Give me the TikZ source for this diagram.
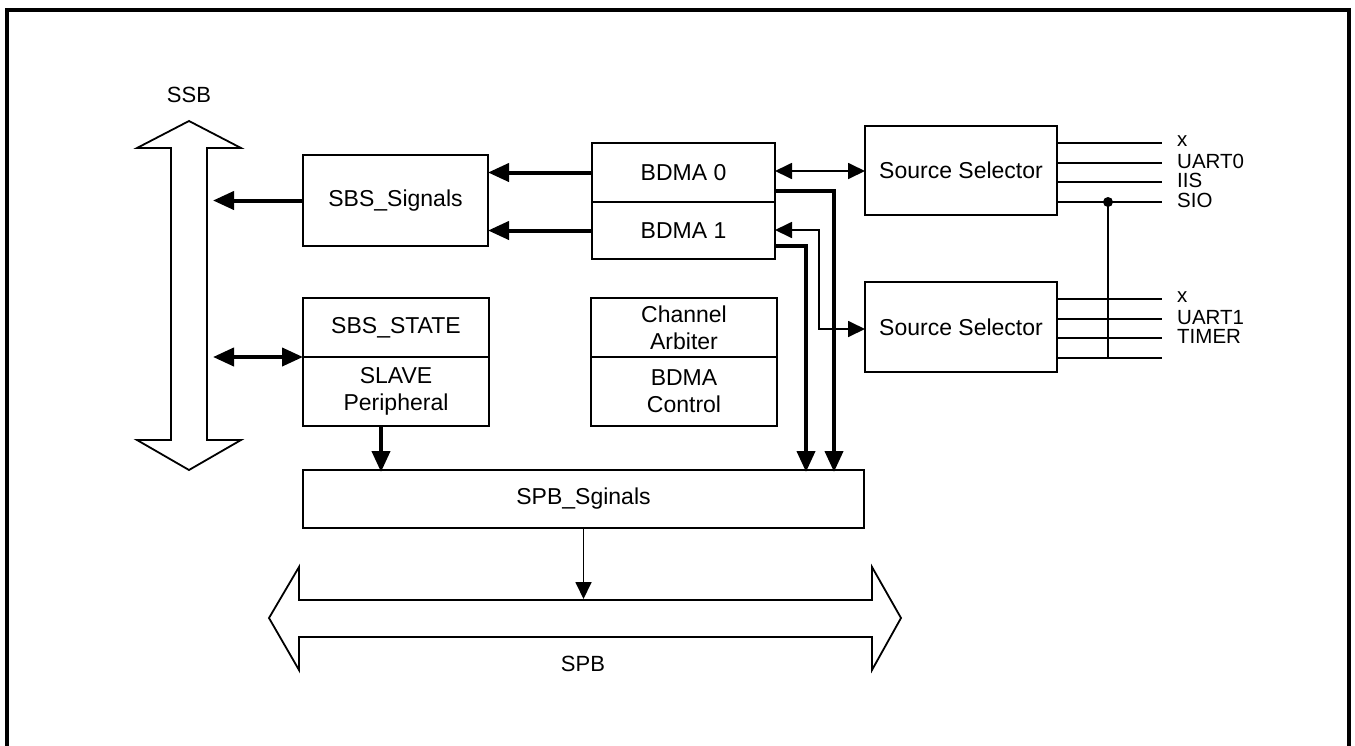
\documentclass[tikz,border=0pt]{standalone}
\usepackage{fontspec}
\setmainfont{Liberation Sans}
\usetikzlibrary{arrows.meta}
\begin{document}
\begin{tikzpicture}[x=1pt,y=-1pt,
  box/.style={draw, line width=1.8pt, inner sep=0pt, outer sep=0pt,
    font=\fontsize{23}{27}\selectfont, align=center},
  thn/.style={line width=1.8pt},
  thk/.style={line width=4pt},
  bigarr/.style={thk, -{Triangle[length=21pt,width=18pt]}},
  bigdbl/.style={thk, {Triangle[length=21pt,width=18pt]}-{Triangle[length=21pt,width=18pt]}},
  smarr/.style={thn, -{Triangle[length=17pt,width=16pt]}},
  smdbl/.style={thn, {Triangle[length=17pt,width=16pt]}-{Triangle[length=17pt,width=16pt]}},
  lab/.style={font=\fontsize{20.5}{20}\selectfont, anchor=base west, inner sep=0pt},
  bus/.style={draw, line width=1.8pt, fill=white, line join=miter},
  title/.style={font=\fontsize{22}{26}\selectfont, inner sep=0pt},
]
\useasboundingbox (0,0) rectangle (1355,745);
\clip (0,0) rectangle (1355,745);
\fill[white] (0,0) rectangle (1355,745);
% frame
\draw[line width=4pt] (7,760) -- (7,10) -- (1348.5,10) -- (1348.5,760);

% buses
\draw[bus] (189,121) -- (241,148) -- (207,148) -- (207,440) -- (241,440) -- (189,470)
  -- (137,440) -- (171,440) -- (171,148) -- (137,148) -- cycle;
\node[title] (ssb) at (189,95) {SSB};
\draw[bus] (269,618) -- (299,567) -- (299,600) -- (872,600) -- (872,567) -- (901,618)
  -- (872,670) -- (872,637) -- (299,637) -- (299,670) -- cycle;
\node[title] (spb) at (583,664) {SPB};

% boxes
\node[box, minimum width=185pt, minimum height=91pt] (sbssig) at (395.5,200.5) {SBS\_Signals};
\node[box, minimum width=183pt, minimum height=59pt] (bdma0) at (683.5,172.5) {BDMA 0};
\node[box, minimum width=183pt, minimum height=57pt] (bdma1) at (683.5,230.5) {BDMA 1};
\node[box, minimum width=192pt, minimum height=89pt] (ss1) at (961,170.5) {Source Selector};
\node[box, minimum width=192pt, minimum height=90pt] (ss2) at (961,327) {Source Selector};
\node[box, minimum width=186pt, minimum height=59pt] (sbsstate) at (396,327.5) {SBS\_STATE};
\node[box, minimum width=186pt, minimum height=69pt] (slave) at (396,391.5) {SLAVE\\Peripheral};
\node[box, minimum width=186pt, minimum height=59pt] (charb) at (684,327.5) {Channel\\Arbiter};
\node[box, minimum width=186pt, minimum height=69pt] (bctl) at (684,391.5) {BDMA\\Control};
\node[box, minimum width=561pt, minimum height=58pt] (spbsig) at (583.5,499) {SPB\_Sginals};

% bus anchor points
\coordinate (ssbA) at (213,200.5);
\coordinate (ssbB) at (213,357);
\coordinate (spbtop) at (583.5,599);

% connectors
\draw[bigarr] (sbssig.west |- ssbA) -- (ssbA);
\draw[bigdbl] (ssbB) -- (sbsstate.south west);
\draw[bigarr] (bdma0.west) -- (bdma0.west -| sbssig.east);
\draw[bigarr] (bdma1.west) -- (bdma1.west -| sbssig.east);
\draw[smdbl] (bdma0.east |- 0,171) -- (ss1.west |- 0,171);
\draw[bigarr] (bdma0.east |- 0,191) -| ([yshift=-2pt]spbsig.north -| 834,0);
\draw[bigarr] (bdma1.east |- 0,246) -| ([yshift=-2pt]spbsig.north -| 806,0);
\draw[smdbl] (bdma1.east |- 0,230) -- (819,230) -- (819,329) -- (ss2.west |- 0,329);
\draw[bigarr] (slave.south -| 381,0) -- ([yshift=-2pt]spbsig.north -| 381,0);
\draw[smarr] (spbsig.south -| spbtop) -- (spbtop);

% source selector signal lines
\foreach \yy in {143,163,182,202} \draw[thn] (ss1.east |- 0,\yy) -- (1162,\yy);
\foreach \yy in {299,319,338,358} \draw[thn] (ss2.east |- 0,\yy) -- (1162,\yy);
\node[lab] (l1) at (1177,146) {x};
\node[lab] (l2) at (1177,168) {UART0};
\node[lab] (l3) at (1177,187) {IIS};
\node[lab] (l4) at (1177,207) {SIO};
\node[lab] (l5) at (1177,302) {x};
\node[lab] (l6) at (1177,324) {UART1};
\node[lab] (l7) at (1177,343) {TIMER};
\coordinate (dot) at (1108,202);
\draw[thn] (dot) -- (1108,358);
\fill (dot) circle (5pt);
\end{tikzpicture}
\end{document}
